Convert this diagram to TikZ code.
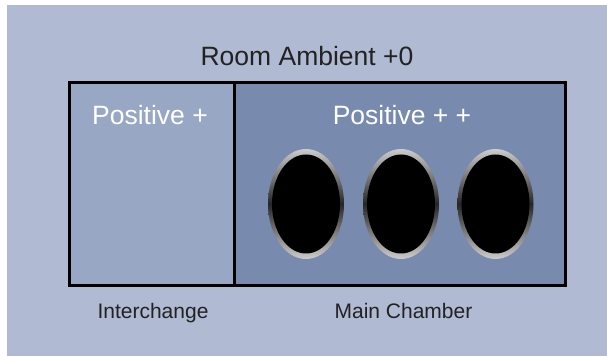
\documentclass[tikz,border=0pt]{standalone}
\usepackage{fontspec}
\setmainfont{Liberation Sans}
\usetikzlibrary{shapes.geometric}

\definecolor{panelblue}{RGB}{176,186,210}
\definecolor{roomblue}{RGB}{152,167,196}
\definecolor{mainblue}{RGB}{120,138,174}
\definecolor{labelgray}{RGB}{34,34,34}

\begin{document}
\begin{tikzpicture}[x=1pt,y=1pt]
        \tikzset{room/.style={draw=black, line width=3pt, rectangle, minimum height=202pt, inner sep=0pt, outer sep=0pt},
        bigtext/.style={anchor=base, inner sep=0pt, font=\fontsize{26.5}{30}\selectfont},
        smalltext/.style={anchor=base, inner sep=0pt, text=labelgray, font=\fontsize{21}{24}\selectfont},
        porthole/.style={ % requires library shapes.geometric
        ellipse,
        minimum width=76pt,
        minimum height=110pt,
        inner sep=0pt,
        top color=gray!40, bottom color=gray!40, middle color=black!85
    },
        hole/.style={ellipse, fill=black, minimum width=68pt, minimum height=99pt, inner sep=0pt},
        }
        \useasboundingbox (0,0) rectangle (607,356);
        \fill[panelblue] (7,0) rectangle (607,351);

        \node [room, fill=roomblue, minimum width=165pt] (interchange) at (151.5,172) {};
        \node [room, fill=mainblue, minimum width=331pt] (chamber) at (399.5,172) {};

        \node [bigtext, text=labelgray] (ambient) at (307,290) {Room Ambient +0};
        \node [bigtext, text=white] (posone) at (150,231) {Positive +};
        \node [bigtext, text=white] (postwo) at (402,231) {Positive + +};

        \node [porthole] (port1) at (306,152) {};
        \node [porthole] (port2) at (401,152) {};
        \node [porthole] (port3) at (495.5,152) {};
        \node [hole] (hole1) at (port1) {};
        \node [hole] (hole2) at (port2) {};
        \node [hole] (hole3) at (port3) {};

        \node [smalltext] (intlabel) at (153,37.7) {Interchange};
        \node [smalltext] (chamberlabel) at (403.5,37.7) {Main Chamber};
    \end{tikzpicture}
\end{document}
